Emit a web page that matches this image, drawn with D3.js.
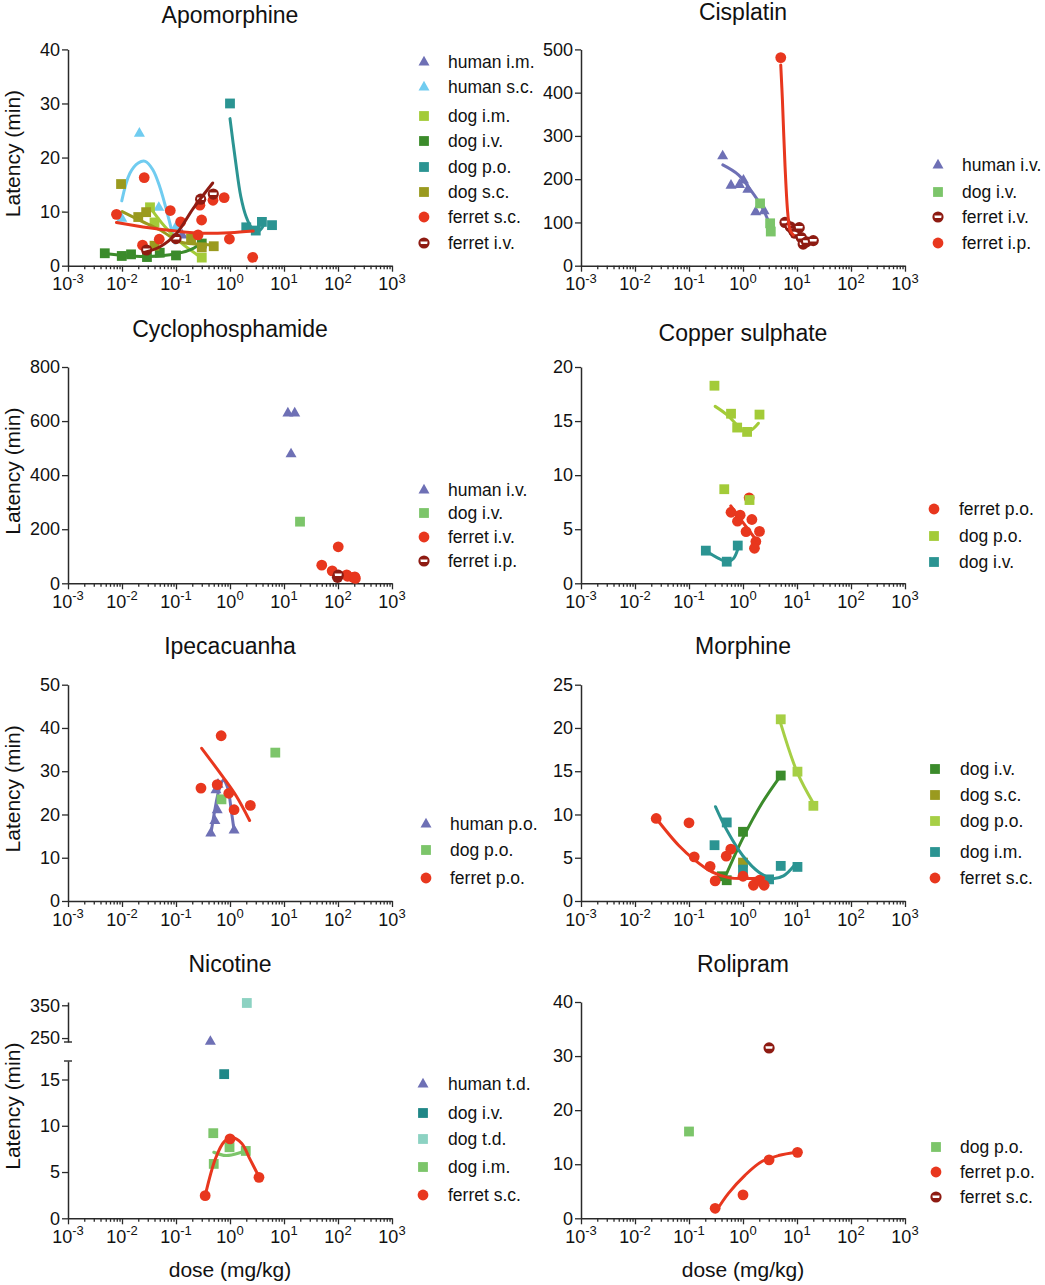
<!DOCTYPE html>
<html><head><meta charset="utf-8">
<script src="https://cdn.jsdelivr.net/npm/d3@7"></script>
<style>
body{margin:0;background:#fff}
svg{display:block}
text{font-family:"Liberation Sans",Arial,Helvetica,sans-serif;fill:#111}
</style>
</head><body>
<svg id="c" width="1045" height="1285"></svg>
<script>
// ---------------- DATA ([dose mg/kg, latency min]) ----------------
const xExponents = [-3,-2,-1,0,1,2,3];

// Apomorphine
const apoYTicks = [0,10,20,30,40];
const apoHumanIM = [[0.13,5.7]];
const apoHumanSC = [[0.0099,8.8],[0.021,24.5],[0.048,10.8],[0.1,7.2]];
const apoHumanSCFit = [[0.0099,12.0],[0.014,17.1],[0.02,19.0],[0.027,19.3],[0.037,17.8],[0.05,14.6],[0.072,9.0],[0.095,4.2]];
const apoDogIM = [[0.033,10.8],[0.04,8.0],[0.3,1.5]];
const apoDogIMFit = [[0.033,10.8],[0.0625,7.2],[0.1186,4.4],[0.278,1.66]];
const apoDogIV = [[0.0048,2.3],[0.0099,1.8],[0.0147,2.1],[0.029,1.6],[0.05,2.4],[0.1,1.9],[0.3,4.1]];
const apoDogIVFit = [[0.0045,2.3],[0.01,1.9],[0.0316,1.7],[0.1,2.2],[0.2,3.1],[0.316,4.6]];
const apoDogPO = [[1.0,30],[2.0,7.1],[3.0,6.5],[3.9,8.1],[6.0,7.5]];
const apoDogPOFit = [[1.0,27.2],[1.26,19.5],[1.585,12.8],[2.0,9.0],[2.51,7.0],[3.02,6.3],[3.63,6.6],[4.27,7.6]];
const apoDogSC = [[0.0096,15.1],[0.02,9.0],[0.028,9.9],[0.04,3.7],[0.19,5.0],[0.3,3.4],[0.5,3.6]];
const apoDogSCFit = [[0.0101,10.0],[0.0224,8.3],[0.0506,6.6],[0.1186,4.4],[0.2415,4.0],[0.49,3.8]];
const apoFerretSC = [[0.0079,9.5],[0.0258,16.3],[0.0784,10.2],[0.122,8.1],[0.024,3.8],[0.049,4.9],[0.256,5.7],[0.298,8.45],[0.277,11.2],[0.484,12.1],[0.78,12.6],[0.975,4.93],[2.63,1.55]];
const apoFerretSCFit = [[0.0079,8.0],[0.0316,7.0],[0.1,6.4],[0.316,6.0],[1.0,6.1],[2.69,6.4]];
const apoFerretIV = [[0.0286,2.9],[0.1,5.0],[0.286,12.3],[0.49,13.25]];
const apoFerretIVFit = [[0.0248,2.4],[0.0506,3.5],[0.103,6.0],[0.209,10.6],[0.479,15.3]];

// Cisplatin
const cisYTicks = [0,100,200,300,400,500];
const cisHumanIV = [[0.42,254],[0.6,186],[0.86,188],[1.02,198],[1.23,177],[1.72,125],[2.46,127]];
const cisHumanIVFit = [[0.423,233],[0.824,210],[1.455,171],[2.23,136],[3.18,94]];
const cisDogIV = [[2.07,144],[3.18,98],[3.27,79]];
const cisFerretIV = [[6.0,100],[7.5,90],[8.5,82],[9.2,75],[11,88],[12,65],[13,50],[15,55],[20,58]];
const cisFerretIP = [[5.0,481]];
const cisFerretIPFit = [[5.0,464],[5.37,383],[6.01,229],[6.75,121],[7.45,82],[8.57,71]];

// Cyclophosphamide
const cycYTicks = [0,200,400,600,800];
const cycHumanIV = [[11.8,630],[15.8,630],[13.5,479]];
const cycDogIV = [[19.8,228]];
const cycFerretIV = [[50,67],[78,46],[101,135],[145,31],[150,26],[192,22],[205,24],[210,18]];
const cycFerretIP = [[98,22],[101,30]];

// Copper sulphate
const cuYTicks = [0,5,10,15,20];
const cuFerretPO = [[0.6,6.57],[0.885,6.3],[0.79,5.74],[1.14,4.78],[1.46,5.9],[2.02,4.8],[1.73,3.86],[1.63,3.24],[1.3,7.9]];
const cuFerretPOFit = [[0.594,7.16],[1.02,5.56],[1.75,4.01]];
const cuDogPO = [[0.296,18.27],[0.6,15.68],[0.78,14.4],[1.19,14.0],[2.02,15.6],[0.45,8.7],[1.32,7.7]];
const cuDogPOFit = [[0.305,16.36],[0.5,15.6],[0.767,14.66],[1.1,14.0],[1.455,14.2],[1.93,14.8]];
const cuDogIV = [[0.205,3.02],[0.5,2.0],[0.8,3.49]];
const cuDogIVFit = [[0.205,3.0],[0.352,2.3],[0.524,2.0],[0.667,2.3],[0.8,3.15]];

// Ipecacuanha
const ipeYTicks = [0,10,20,30,40,50];
const ipeHumanPO = [[0.44,15.7],[0.525,18.6],[0.58,21.1],[0.55,25.7],[0.6,27.0],[1.19,16.4]];
const ipeHumanPOFit = [[0.44,15.3],[0.525,21.1],[0.627,25.7],[0.75,27.9],[0.908,26.1],[1.052,21.1],[1.186,16.4]];
const ipeDogPO = [[0.695,23.5],[6.9,34.3]];
const ipeFerretPO = [[0.29,26.1],[0.686,38.2],[0.58,26.9],[0.95,24.9],[1.19,21.1],[2.38,22.1]];
const ipeFerretPOFit = [[0.299,35.3],[0.728,28.8],[1.315,24.2],[2.307,18.6]];

// Morphine
const morYTicks = [0,5,10,15,20,25];
const morDogIV = [[0.405,2.86],[0.5,2.4],[1.0,8.0],[5.0,14.5]];
const morDogIVFit = [[0.468,2.8],[1.0,7.3],[2.24,11.3],[5.0,14.5]];
const morDogSC = [[1.0,4.44]];
const morDogPO = [[5.0,21.0],[10.2,14.95],[20.1,11.0]];
const morDogPOFit = [[5.0,20.5],[10.2,14.8],[20.1,11.3]];
const morDogIM = [[0.297,6.45],[0.5,9.08],[1.0,3.63],[3.04,2.5],[5.0,4.06],[10.2,3.94]];
const morDogIMFit = [[0.309,10.9],[0.5,8.2],[1.0,5.2],[2.0,3.3],[3.55,2.6],[5.62,2.9],[8.9,4.1]];
const morFerretSC = [[0.0247,9.54],[0.1,9.04],[0.125,5.1],[0.246,4.0],[0.305,2.32],[0.49,5.18],[0.594,5.99],[1.0,2.86],[1.56,1.82],[2.02,2.4],[2.46,1.82]];
const morFerretSCFit = [[0.0247,9.54],[0.064,6.45],[0.13,4.7],[0.265,3.36],[0.538,2.7],[1.096,2.6],[2.39,2.7]];

// Nicotine (broken y axis)
const nicYTicksLow = [0,5,10,15];
const nicYTicksHigh = [250,350];
const nicHumanTD = [[0.433,240]];
const nicDogIV = [[0.78,15.58]];
const nicDogTD = [[2.05,357]];
const nicDogIM = [[0.49,9.2],[0.5,5.88],[0.98,7.68],[1.96,7.28]];
const nicDogIMFit = [[0.5,7.14],[0.843,6.78],[1.416,7.03],[1.963,7.39]];
const nicFerretSC = [[0.347,2.45],[1.0,8.58],[3.44,4.43]];
const nicFerretSCFit = [[0.347,2.45],[0.541,6.49],[0.783,8.29],[1.10,8.73],[1.64,8.11],[2.38,6.31],[3.44,4.5]];

// Rolipram
const rolYTicks = [0,10,20,30,40];
const rolDogPO = [[0.1,16.05]];
const rolFerretPO = [[0.305,1.85],[1.0,4.32],[3.04,10.8],[10.2,12.2]];
const rolFerretPOFit = [[0.314,1.23],[0.537,4.6],[1.096,8.0],[2.23,10.5],[4.53,11.6],[10.2,12.2]];
const rolFerretSC = [[3.04,31.5]];

// ---------------- STYLE ----------------
const C = {
  purple:"#6E70B5", sky:"#70CCF0", yg:"#A3CB38", dgreen:"#3B8B2B", teal:"#2B9492",
  olive:"#9A9A1F", red:"#E8371E", dred:"#8E1B12", lgreen:"#7CC56A",
  teal2:"#1F8787", mint:"#8CD2C2", yg2:"#A6CF45"
};

const colX = [68, 581];
const W = 324;
const rowY0 = [265.7, 583.3, 901, 1218.3];
const H = 216.3;

const panels = [
 {title:"Apomorphine", col:0, row:0, titleY:23, yTicks:apoYTicks, lx:356, tx:380,
  legendY:[62,87,116,141,167,192,217,243], series:[
   {label:"human i.m.", shape:"tri", color:C.purple, pts:apoHumanIM},
   {label:"human s.c.", shape:"tri", color:C.sky, pts:apoHumanSC, fit:apoHumanSCFit},
   {label:"dog i.m.", shape:"sq", color:C.yg, pts:apoDogIM, fit:apoDogIMFit},
   {label:"dog i.v.", shape:"sq", color:C.dgreen, pts:apoDogIV, fit:apoDogIVFit},
   {label:"dog p.o.", shape:"sq", color:C.teal, pts:apoDogPO, fit:apoDogPOFit},
   {label:"dog s.c.", shape:"sq", color:C.olive, pts:apoDogSC, fit:apoDogSCFit},
   {label:"ferret s.c.", shape:"circ", color:C.red, pts:apoFerretSC, fit:apoFerretSCFit},
   {label:"ferret i.v.", shape:"half", color:C.dred, pts:apoFerretIV, fit:apoFerretIVFit}]},
 {title:"Cisplatin", col:1, row:0, titleY:19.5, yTicks:cisYTicks, lx:357, tx:381,
  legendY:[165,192,217,243], series:[
   {label:"human i.v.", shape:"tri", color:C.purple, pts:cisHumanIV, fit:cisHumanIVFit},
   {label:"dog i.v.", shape:"sq", color:C.lgreen, pts:cisDogIV},
   {label:"ferret i.v.", shape:"half", color:C.dred, pts:cisFerretIV},
   {label:"ferret i.p.", shape:"circ", color:C.red, pts:cisFerretIP, fit:cisFerretIPFit}]},
 {title:"Cyclophosphamide", col:0, row:1, titleY:337, yTicks:cycYTicks, lx:356, tx:380,
  legendY:[490,513,537,561], series:[
   {label:"human i.v.", shape:"tri", color:C.purple, pts:cycHumanIV},
   {label:"dog i.v.", shape:"sq", color:C.lgreen, pts:cycDogIV},
   {label:"ferret i.v.", shape:"circ", color:C.red, pts:cycFerretIV},
   {label:"ferret i.p.", shape:"half", color:C.dred, pts:cycFerretIP}]},
 {title:"Copper sulphate", col:1, row:1, titleY:341, yTicks:cuYTicks, lx:353, tx:378,
  legendY:[509,536,562], series:[
   {label:"ferret p.o.", shape:"circ", color:C.red, pts:cuFerretPO, fit:cuFerretPOFit},
   {label:"dog p.o.", shape:"sq", color:C.yg, pts:cuDogPO, fit:cuDogPOFit},
   {label:"dog i.v.", shape:"sq", color:C.teal, pts:cuDogIV, fit:cuDogIVFit}]},
 {title:"Ipecacuanha", col:0, row:2, titleY:654, yTicks:ipeYTicks, lx:358, tx:382,
  legendY:[824,850,878], series:[
   {label:"human p.o.", shape:"tri", color:C.purple, pts:ipeHumanPO, fit:ipeHumanPOFit},
   {label:"dog p.o.", shape:"sq", color:C.lgreen, pts:ipeDogPO},
   {label:"ferret p.o.", shape:"circ", color:C.red, pts:ipeFerretPO, fit:ipeFerretPOFit}]},
 {title:"Morphine", col:1, row:2, titleY:654, yTicks:morYTicks, lx:354, tx:379,
  legendY:[769,795,821,852,878], series:[
   {label:"dog i.v.", shape:"sq", color:C.dgreen, pts:morDogIV, fit:morDogIVFit},
   {label:"dog s.c.", shape:"sq", color:C.olive, pts:morDogSC},
   {label:"dog p.o.", shape:"sq", color:C.yg2, pts:morDogPO, fit:morDogPOFit},
   {label:"dog i.m.", shape:"sq", color:C.teal, pts:morDogIM, fit:morDogIMFit},
   {label:"ferret s.c.", shape:"circ", color:C.red, pts:morFerretSC, fit:morFerretSCFit}]},
 {title:"Nicotine", col:0, row:3, titleY:972, broken:true, lx:355, tx:380,
  legendY:[1084,1113,1139,1167,1195], series:[
   {label:"human t.d.", shape:"tri", color:C.purple, pts:nicHumanTD},
   {label:"dog i.v.", shape:"sq", color:C.teal2, pts:nicDogIV},
   {label:"dog t.d.", shape:"sq", color:C.mint, pts:nicDogTD},
   {label:"dog i.m.", shape:"sq", color:C.lgreen, pts:nicDogIM, fit:nicDogIMFit},
   {label:"ferret s.c.", shape:"circ", color:C.red, pts:nicFerretSC, fit:nicFerretSCFit}]},
 {title:"Rolipram", col:1, row:3, titleY:972, yTicks:rolYTicks, lx:355, tx:379,
  legendY:[1147,1172,1197], series:[
   {label:"dog p.o.", shape:"sq", color:C.lgreen, pts:rolDogPO},
   {label:"ferret p.o.", shape:"circ", color:C.red, pts:rolFerretPO, fit:rolFerretPOFit},
   {label:"ferret s.c.", shape:"half", color:C.dred, pts:rolFerretSC}]}
];

// ---------------- DRAW ----------------
const svg = d3.select("#c");
svg.append("rect").attr("width",1045).attr("height",1285).attr("fill","#fff");
const AX = "#2a2a2a";

function drawMarker(g, shape, color, cx, cy) {
  if (shape === "sq") {
    g.append("rect").attr("x",cx-4.9).attr("y",cy-4.9).attr("width",9.8).attr("height",9.8).attr("fill",color);
  } else if (shape === "tri") {
    const s = 11;
    g.append("path").attr("d",`M${cx},${cy-s*0.56}L${cx+s/2},${cy+s*0.32}L${cx-s/2},${cy+s*0.32}Z`).attr("fill",color);
  } else if (shape === "circ") {
    g.append("circle").attr("cx",cx).attr("cy",cy).attr("r",5.4).attr("fill",color);
  } else if (shape === "half") {
    g.append("circle").attr("cx",cx).attr("cy",cy).attr("r",5.6).attr("fill",color);
    g.append("path").attr("d",`M${cx-3.6},${cy-1.6}L${cx+3.6},${cy-1.6}L${cx+3.2},${cy+0.9}L${cx-3.2},${cy+0.9}Z`)
      .attr("fill","#fff");
  }
}

const minors = [];
for (let e=-3; e<3; e++) for (let k=2; k<=9; k++) minors.push(k*Math.pow(10,e));

function styleAxis(sel) {
  sel.selectAll(".domain").attr("stroke",AX).attr("stroke-width",1.5);
  sel.selectAll(".tick line").attr("stroke",AX).attr("stroke-width",1.3);
  sel.selectAll(".tick text").attr("font-family",'"Liberation Sans",Arial,sans-serif')
     .attr("font-size",18).attr("fill","#111");
}

panels.forEach(p => {
  const x0 = colX[p.col], y0 = rowY0[p.row];
  const g = svg.append("g");
  const x = d3.scaleLog().domain([1e-3,1e3]).range([x0, x0+W]);

  // y scales
  let yOf;
  if (p.broken) {
    const yLow = d3.scaleLinear().domain([0,17]).range([y0, y0-157.3]);
    const yHigh = d3.scaleLinear().domain([238,360]).range([y0-176.3, y0-216.3]);
    yOf = v => v > 100 ? yHigh(v) : yLow(v);
    const a1 = g.append("g").attr("transform",`translate(${x0},0)`)
      .call(d3.axisLeft(yLow).tickValues(nicYTicksLow).tickSize(6).tickSizeOuter(0).tickPadding(2));
    styleAxis(a1);
    const a2 = g.append("g").attr("transform",`translate(${x0},0)`)
      .call(d3.axisLeft(yHigh).tickValues(nicYTicksHigh).tickSize(6).tickSizeOuter(0).tickPadding(2));
    styleAxis(a2);
    [y0-157.3, y0-176.3].forEach(yy => {
      g.append("line").attr("x1",x0-4).attr("x2",x0+4).attr("y1",yy).attr("y2",yy)
        .attr("stroke",AX).attr("stroke-width",1.4);
    });
  } else {
    const y = d3.scaleLinear().domain([0, d3.max(p.yTicks)]).range([y0, y0-H]);
    yOf = y;
    const a = g.append("g").attr("transform",`translate(${x0},0)`)
      .call(d3.axisLeft(y).tickValues(p.yTicks).tickSize(6).tickSizeOuter(0).tickPadding(2));
    styleAxis(a);
  }

  // x axis
  const xa = g.append("g").attr("transform",`translate(0,${y0})`)
    .call(d3.axisBottom(x).tickValues(xExponents.map(e=>Math.pow(10,e))).tickSize(6).tickSizeOuter(0).tickFormat(""));
  styleAxis(xa);
  const xm = g.append("g").attr("transform",`translate(0,${y0})`)
    .call(d3.axisBottom(x).tickValues(minors).tickSize(3.5).tickSizeOuter(0).tickFormat(""));
  xm.select(".domain").remove();
  styleAxis(xm);
  xExponents.forEach(e => {
    const t = g.append("text").attr("x", x(Math.pow(10,e))).attr("y", y0+24.5)
      .attr("text-anchor","middle").attr("font-size",18);
    t.append("tspan").text("10");
    t.append("tspan").attr("font-size",13).attr("dy",-7.5).text(String(e));
  });

  // title
  g.append("text").attr("x", x0+W/2).attr("y", p.titleY).attr("text-anchor","middle")
    .attr("font-size",23).text(p.title);

  // axis labels
  if (p.col === 0) {
    g.append("text").attr("transform",`translate(20,${y0-H/2-4}) rotate(-90)`)
      .attr("text-anchor","middle").attr("font-size",21).text("Latency (min)");
  }
  if (p.row === 3) {
    g.append("text").attr("x", x0+W/2).attr("y", 1277).attr("text-anchor","middle")
      .attr("font-size",21).text("dose (mg/kg)");
  }

  // data
  const line = d3.line().x(d=>x(d[0])).y(d=>yOf(d[1])).curve(d3.curveCatmullRom.alpha(0.5));
  p.series.forEach(s => {
    const sg = g.append("g");
    s.pts.forEach(d => drawMarker(sg, s.shape, s.color, x(d[0]), yOf(d[1])));
    if (s.fit) {
      sg.append("path").attr("d", line(s.fit)).attr("fill","none")
        .attr("stroke", s.color).attr("stroke-width",3).attr("stroke-linecap","round");
    }
  });

  // legend
  p.series.forEach((s,i) => {
    const ly = p.legendY[i];
    drawMarker(g, s.shape, s.color, x0+p.lx, ly);
    g.append("text").attr("x", x0+p.tx).attr("y", ly+6).attr("font-size",17.5).text(s.label);
  });
});
</script>
</body></html>
